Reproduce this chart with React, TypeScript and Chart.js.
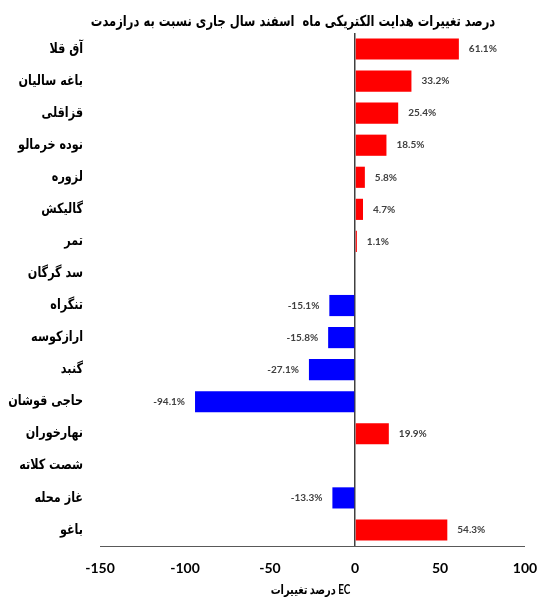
import React, { useEffect, useRef } from "react";
import { Chart, registerables } from "chart.js";

Chart.register(...registerables);

const categories = [
  "آق قلا",
  "باغه سالیان",
  "قزاقلی",
  "نوده خرمالو",
  "لزوره",
  "گالیکش",
  "تمر",
  "سد گرگان",
  "تنگراه",
  "ارازکوسه",
  "گنبد",
  "حاجی قوشان",
  "نهارخوران",
  "شصت کلاته",
  "غاز محله",
  "باغو",
];

const changes = [61.1, 33.2, 25.4, 18.5, 5.8, 4.7, 1.1, 0, -15.1, -15.8, -27.1, -94.1, 19.9, 0, -13.3, 54.3];

const xTicks = [-150, -100, -50, 0, 50, 100];

const chartTitle = "درصد تغییرات هدایت الکتریکی ماه  اسفند سال جاری نسبت به درازمدت";
const xTitle = "درصد تغییرات EC";

const POS_COLOR = "#FF0000";
const NEG_COLOR = "#0000FF";

const ARABIC_FONT = "'DejaVu Sans'";

const drawScaledText = (ctx: any, txt: string, x: number, y: number, align: string, sx: number) => {
  ctx.save();
  ctx.translate(x, y);
  ctx.scale(sx, 1);
  ctx.textAlign = align;
  ctx.textBaseline = "middle";
  ctx.fillText(txt, 0, 0);
  ctx.restore();
};

const customText = {
  id: "customText",
  afterDraw(chart: any) {
    const ctx = chart.ctx;
    const area = chart.chartArea;
    ctx.save();
    ctx.fillStyle = "#000";
    // title
    ctx.font = `bold 15px ${ARABIC_FONT}`;
    drawScaledText(ctx, chartTitle, 293, 22, "center", 0.77);
    // category labels
    const yScale = chart.scales.y;
    ctx.font = `bold 14px ${ARABIC_FONT}`;
    categories.forEach((c, i) => {
      const y = yScale.getPixelForValue(i);
      drawScaledText(ctx, c, 83, y, "right", 0.8);
    });
    // x axis title
    ctx.font = `bold 13px Lato, ${ARABIC_FONT}`;
    drawScaledText(ctx, xTitle, (area.left + area.right) / 2 - 2, 590, "center", 0.76);
    ctx.restore();
  },
  afterDatasetsDraw(chart: any) {
    const ctx = chart.ctx;
    const meta = chart.getDatasetMeta(0);
    const data = chart.data.datasets[0].data as number[];
    ctx.save();
    ctx.font = "bold 10px Lato, 'DejaVu Sans'";
    ctx.fillStyle = "#404040";
    ctx.textBaseline = "middle";
    meta.data.forEach((bar: any, i: number) => {
      const v = data[i];
      if (v === 0) return;
      const txt = v.toFixed(1) + "%";
      if (v > 0) {
        ctx.textAlign = "left";
        ctx.fillText(txt, bar.x + 10, bar.y);
      } else {
        ctx.textAlign = "right";
        ctx.fillText(txt, bar.x - 10, bar.y);
      }
    });
    ctx.restore();
  },
};

export default function App() {
  const ref = useRef<HTMLCanvasElement | null>(null);
  useEffect(() => {
    if (!ref.current) return;
    const chart = new Chart(ref.current, {
      type: "bar",
      data: {
        labels: categories,
        datasets: [
          {
            data: changes,
            backgroundColor: changes.map((v) => (v >= 0 ? POS_COLOR : NEG_COLOR)),
            barPercentage: 0.66,
            categoryPercentage: 1,
          },
        ],
      },
      options: {
        indexAxis: "y",
        animation: false,
        responsive: true,
        maintainAspectRatio: false,
        layout: { padding: { left: 0, right: 13, top: 33, bottom: 0 } },
        plugins: {
          legend: { display: false },
          tooltip: { enabled: false },
          title: { display: false },
        },
        scales: {
          x: {
            min: -150,
            max: 100,
            afterBuildTicks: (scale: any) => {
              scale.ticks = xTicks.map((v) => ({ value: v }));
            },
            afterFit: (scale: any) => {
              scale.height = 56;
              scale.paddingRight = 0;
              scale.paddingLeft = 0;
            },
            ticks: {
              color: "#000",
              font: { family: "Lato, 'DejaVu Sans'", size: 14, weight: "bold" },
              padding: 14,
            },
            grid: {
              drawTicks: false,
              color: (c: any) => (c.tick && c.tick.value === 0 ? "#404040" : "rgba(0,0,0,0)"),
              lineWidth: (c: any) => (c.tick && c.tick.value === 0 ? 1.5 : 0),
            },
            border: { display: true, color: "#595959", width: 1 },
            title: { display: false },
          },
          y: {
            afterFit: (scale: any) => {
              scale.width = 100;
            },
            ticks: { display: false },
            grid: { display: false, drawTicks: false },
            border: { display: false },
          },
        },
      },
      plugins: [customText],
    });
    return () => chart.destroy();
  }, []);
  return (
    <div style={{ position: "absolute", left: 0, top: 0, width: 538, height: 602, background: "#fff" }}>
      <canvas ref={ref} />
    </div>
  );
}
